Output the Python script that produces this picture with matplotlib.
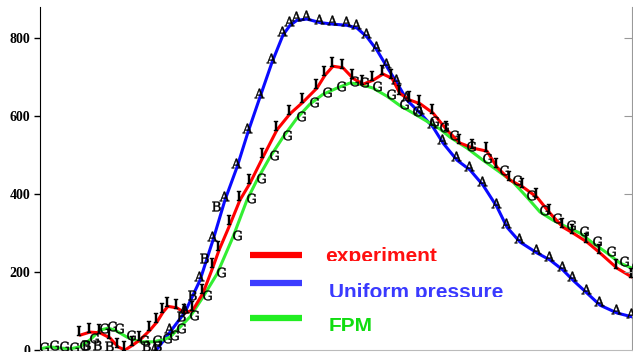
import matplotlib.pyplot as plt
import matplotlib.transforms as mtransforms
from matplotlib.transforms import Bbox, TransformedBbox

plt.rcParams['mathtext.fontset'] = 'dejavuserif'

# positions along the specimen (arbitrary units, no x ticks on the chart)
x_uniform = [155, 170, 185, 200, 213, 225, 237, 248, 260, 272, 283, 290, 297, 307, 320, 333, 347,
             357, 367, 377, 387, 397, 407, 420, 433, 443, 457, 470, 483, 497, 507, 520, 537,
             550, 563, 573, 587, 600, 617, 632]
y_uniform = [-5, 46, 97, 179, 282, 385, 469, 559, 649, 738, 808, 833, 846, 849, 840, 836, 833,
             826, 803, 769, 726, 685, 641, 608, 572, 531, 487, 462, 423, 367, 315, 277, 249,
             231, 205, 179, 146, 115, 95, 85]

x_exp = [80, 90, 100, 110, 118, 125, 133, 140, 150, 157, 163, 168, 177, 185, 193, 203, 213,
         219, 230, 240, 250, 263, 277, 290, 303, 317, 325, 333, 343, 353, 363, 373, 383, 392,
         400, 410, 420, 433, 447, 460, 473, 487, 497, 510, 523, 537, 550, 563, 573, 587, 600,
         617, 632]
y_exp = [38, 46, 44, 31, 8, 0, 13, 26, 51, 72, 97, 112, 108, 95, 103, 146, 213,
         256, 322, 385, 428, 495, 565, 606, 636, 672, 705, 728, 724, 697, 682, 692, 708, 697,
         658, 641, 632, 608, 564, 531, 518, 510, 469, 436, 418, 392, 351, 315, 300, 277, 249,
         210, 187]

x_fpm = [40, 50, 60, 70, 80, 90, 100, 108, 115, 127, 140, 153, 163, 170, 177, 190, 203, 217,
         233, 247, 257, 270, 283, 297, 310, 323, 337, 350, 360, 373, 387, 400, 413, 430, 440,
         450, 467, 483, 500, 513, 527, 540, 553, 567, 580, 593, 607, 620, 632]
y_fpm = [3, 8, 5, 3, 8, 26, 51, 56, 51, 33, 21, 21, 26, 33, 51, 85, 136, 195,
         290, 385, 436, 495, 546, 595, 631, 656, 672, 685, 682, 672, 651, 627, 608, 582, 567,
         546, 518, 487, 456, 431, 392, 354, 333, 315, 300, 274, 249, 223, 210]

# stray "B" markers of a fourth series
x_b = [82, 93, 105, 142, 153, 177, 188, 200, 212]
y_b = [8, 8, 5, 5, 5, 82, 136, 231, 364]

labels = ['experiment', 'Uniform pressure', 'FPM']

fig = plt.figure(figsize=(6.33, 3.52), dpi=100)
ax = fig.add_axes([40 / 633, 2 / 352, 592 / 633, 343 / 352])

line_kw = dict(lw=2.2, solid_joinstyle='round', solid_capstyle='round')
ax.plot(x_exp, y_exp, color='#ff0000', zorder=3, **line_kw)
ax.plot(x_uniform, y_uniform, color='#0a0aff', zorder=2, **line_kw)
ax.plot(x_fpm, y_fpm, color='#33ee33', zorder=2.5, **line_kw)

# letter markers sit a little above the curves
shift = mtransforms.offset_copy(ax.transData, fig=fig, x=-1, y=4, units='dots')
mk = dict(linestyle='none', color='black', markersize=7, mew=0.3, zorder=5, transform=shift)
ax.plot(x_uniform, y_uniform, marker=r'$\mathrm{A}$', **mk)
ax.plot(x_exp, y_exp, marker=r'$\mathrm{I}$', **mk)
shift2 = mtransforms.offset_copy(ax.transData, fig=fig, x=4, y=2, units='dots')
mk['transform'] = shift2
ax.plot(x_fpm, y_fpm, marker=r'$\mathrm{G}$', **mk)
ax.plot(x_b, y_b, marker=r'$\mathrm{B}$', **mk)

ax.set_xlim(40, 632)
ax.set_ylim(0, 880)
ax.set_xticks([])
ax.set_yticks([0, 200, 400, 600, 800])
ax.tick_params(axis='y', direction='out', length=4, width=1, labelsize=10, pad=3)
for t in ax.get_yticklabels():
    t.set_fontfamily('Liberation Serif')
    t.set_fontweight('bold')
ax.spines['top'].set_visible(False)
ax.spines['right'].set_color('#999999')
ax.spines['bottom'].set_color('#bbbbbb')
ax.spines['left'].set_color('black')

ax2 = ax.twinx()
ax2.set_ylim(0, 880)
ax2.set_yticks([200, 400, 600, 800])
ax2.tick_params(axis='y', direction='in', length=6, color='#999999', labelright=False)
for s in ax2.spines.values():
    s.set_visible(False)

# legend drawn by hand: thick segments and coloured, bottom-clipped labels
leg_line = ['#ff0000', '#3c3cff', '#22ee22']
leg_text = ['#ff1010', '#3a3aff', '#11dd11']
line_y = [255, 283, 318]
text_x = [325, 329, 329]
base_y = [262, 298, 332]
for i in range(3):
    yl = (350 - line_y[i]) / 343
    ax.plot([(250 - 40) / 592, (302 - 40) / 592], [yl, yl], transform=ax.transAxes,
            color=leg_line[i], lw=4.5, solid_capstyle='butt', clip_on=False, zorder=6)
    yb = (350 - base_y[i]) / 343
    t = ax.text((text_x[i] - 40) / 592, yb, labels[i], transform=ax.transAxes,
                color=leg_text[i], fontsize=15, fontweight='bold', family='Liberation Sans',
                va='baseline', ha='left', zorder=6)
    clip = TransformedBbox(Bbox([[0.4, yb + 1.5 / 343], [1.0, yb + 30 / 343]]), ax.transAxes)
    t.set_clip_box(clip)
    t.set_clip_on(True)

fig.savefig('out.png', dpi=100)
